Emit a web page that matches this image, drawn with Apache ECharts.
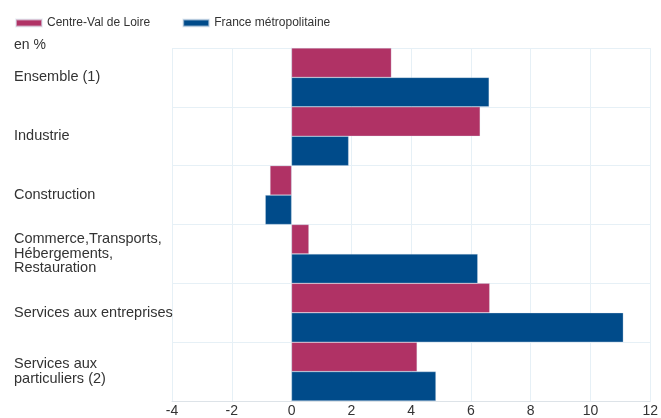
<!DOCTYPE html>
<html><head><meta charset="utf-8">
<script src="https://cdn.jsdelivr.net/npm/echarts@6/dist/echarts.min.js"></script>
<style>html,body{margin:0;padding:0;background:#fff}#c{width:661px;height:418px}</style>
</head><body><div id="c"></div>
<script>
const categories = ["Ensemble (1)", "Industrie", "Construction", "Commerce,Transports,\nHébergements,\nRestauration", "Services aux entreprises", "Services aux\nparticuliers (2)"];
const centreVal = [3.34, 6.31, -0.72, 0.58, 6.63, 4.2];
const franceMetro = [6.61, 1.91, -0.88, 6.23, 11.1, 4.83];
const xTicks = { min: -4, max: 12, interval: 2 };

const chart = echarts.init(document.getElementById('c'));
chart.setOption({
  animation: false,
  textStyle: { fontFamily: 'Liberation Sans, Arial, sans-serif' },
  legend: {
    left: 10, top: 12, itemWidth: 26, itemHeight: 7, itemGap: 32, icon: 'rect',
    textStyle: { fontSize: 12, color: '#333' },
    data: ['Centre-Val de Loire', 'France métropolitaine']
  },
  graphic: [{ type: 'text', left: 14, top: 38, style: { text: 'en %', fontSize: 14, fill: '#333', fontFamily: 'Liberation Sans, Arial, sans-serif' } }],
  grid: { left: 172, right: 7, top: 48, bottom: 15, containLabel: false },
  xAxis: {
    type: 'value', min: xTicks.min, max: xTicks.max, interval: xTicks.interval,
    axisLine: { show: true, lineStyle: { color: '#dde3e8' } },
    axisTick: { show: false },
    axisLabel: { fontSize: 14, color: '#333', margin: 3 },
    splitLine: { show: true, lineStyle: { color: '#e6f0f6' } }
  },
  yAxis: {
    type: 'category', inverse: true, data: categories,
    axisLine: { show: true, lineStyle: { color: '#e6f0f6' } },
    axisTick: { show: false },
    axisLabel: { align: 'left', margin: 158, fontSize: 14.5, color: '#333', lineHeight: 14.5, padding: [3, 0, 0, 0] },
    splitLine: { show: true, lineStyle: { color: '#e6f0f6' } }
  },
  series: [
    { name: 'Centre-Val de Loire', type: 'bar', data: centreVal, barGap: '0%', barCategoryGap: '0%',
      itemStyle: { color: '#b03265', borderColor: 'rgba(220,230,240,0.6)', borderWidth: 0.5 } },
    { name: 'France métropolitaine', type: 'bar', data: franceMetro, barGap: '0%', barCategoryGap: '0%',
      itemStyle: { color: '#004b8a', borderColor: 'rgba(220,230,240,0.6)', borderWidth: 0.5 } }
  ]
});
</script></body></html>
